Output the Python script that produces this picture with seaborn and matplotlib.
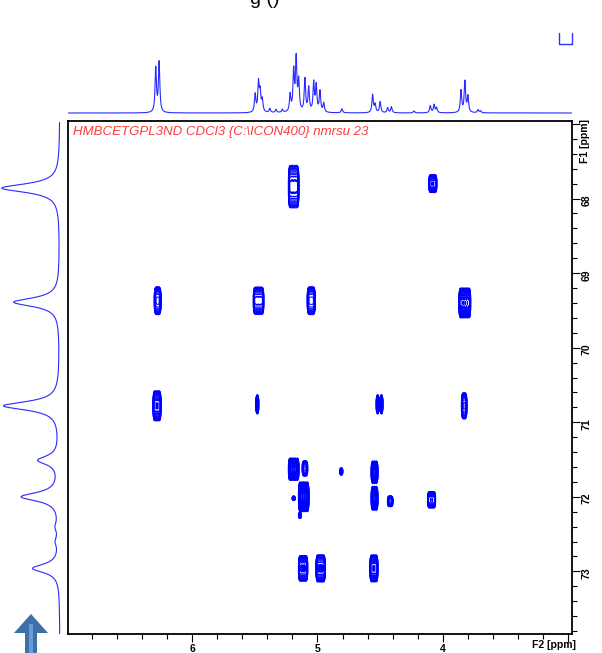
import numpy as np
import pandas as pd
import matplotlib
matplotlib.use("Agg")
import matplotlib.pyplot as plt
from matplotlib.patches import Polygon, Rectangle
from matplotlib.lines import Line2D
import seaborn as sns

# ---------------- data ----------------
# F2 (1H) projection: peak position [ppm] and height [arbitrary]
top_ppm = [6.290, 6.263, 5.497, 5.470, 5.457, 5.440, 5.380, 5.330, 5.280,
           5.218, 5.190, 5.170, 5.150, 5.100, 5.070, 5.030, 5.010, 4.980, 4.950,
           4.805, 4.560, 4.540, 4.500, 4.440, 4.410, 4.230, 4.100, 4.070, 4.050,
           3.855, 3.824, 3.800, 3.720, 3.700]
top_height = [44, 50, 18, 29, 19, 12, 4, 3, 3,
              17, 40, 52, 30, 33, 24, 29, 26, 21, 9,
              4, 18, 8, 11, 5, 6, 2, 7, 8, 5,
              22, 31, 16, 3, 2]

# F1 (13C) projection: peak position [ppm] and depth [arbitrary]
left_ppm = [67.86, 69.39, 70.78, 71.51, 72.00, 72.40, 72.60, 72.96]
left_depth = [58, 46, 56, 21, 38, 3, 3, 27]

# HMBC cross peaks: F2 range, F1 centre, F1 half extent, number of multiplet lines
cp_f2_a = [5.23, 4.11, 6.30, 5.51, 5.08, 3.87, 6.31, 5.485, 4.53, 3.85, 5.23, 5.12,
           5.15, 4.815, 4.57, 4.57, 4.44, 4.12, 5.15, 5.01, 4.58, 5.195, 5.145]
cp_f2_b = [5.15, 4.05, 6.25, 5.43, 5.02, 3.78, 6.25, 5.475, 4.48, 3.81, 5.15, 5.08,
           5.07, 4.805, 4.52, 4.52, 4.40, 4.06, 5.08, 4.94, 4.52, 5.185, 5.135]
cp_f1 = [67.84, 67.80, 69.37, 69.37, 69.37, 69.40, 70.78, 70.76, 70.76, 70.78, 71.63,
         71.62, 72.00, 71.66, 71.67, 72.02, 72.06, 72.04, 72.96, 72.96, 72.96, 72.02, 72.25]
cp_f1_half = [0.28, 0.12, 0.18, 0.18, 0.18, 0.20, 0.20, 0.13, 0.13, 0.17, 0.15, 0.10,
              0.20, 0.05, 0.15, 0.16, 0.07, 0.11, 0.17, 0.18, 0.18, 0.03, 0.04]
cp_lines = [6, 4, 4, 6, 5, 6, 4, 1, 2, 3, 5, 3, 5, 1, 3, 3, 3, 4, 5, 5, 4, 1, 1]

x_major = [6, 5, 4, 3]
x_major_labels = ["6", "5", "4", ""]
y_major = [67, 68, 69, 70, 71, 72, 73]
y_major_labels = ["", "68", "69", "70", "71", "72", "73"]
title_text = "HMBCETGPL3ND CDCl3 {C:\\ICON400} nmrsu 23"

# ---------------- layout helpers ----------------
W, H = 602, 653
XLIM = (6.99, 2.97)
YLIM = (73.84, 66.96)


def rect(x0, y0, x1, y1):
    return [x0 / W, 1 - y1 / H, (x1 - x0) / W, (y1 - y0) / H]


sns.set_theme(style="white")
plt.rcParams["font.family"] = ["Liberation Sans", "DejaVu Sans"]

fig = plt.figure(figsize=(W / 100, H / 100), dpi=100)

# ---------------- 2D contour ----------------
ax = fig.add_axes(rect(68, 121, 572, 634))
f2 = np.arange(2.95, 7.01, 0.0015)
f1 = np.arange(66.9, 73.9, 0.006)
Z = np.zeros((f1.size, f2.size))
sx = 0.0055
lowest = 0.08
for a, b, yc, hy, n in zip(cp_f2_a, cp_f2_b, cp_f1, cp_f1_half, cp_lines):
    lo, hi = min(a, b), max(a, b)
    if n > 1:
        m = 0.01
        centres = np.linspace(lo + m, hi - m, n)
    else:
        centres = [(lo + hi) / 2]
    # flat-topped profile along F1 reaching the lowest level at +/- hy
    sy = hy / (2 * np.log(1 / lowest)) ** (1 / 3)
    gy = np.exp(-0.5 * np.abs((f1 - yc) / sy) ** 3)
    for xc in centres:
        gx = np.exp(-0.5 * ((f2 - xc) / sx) ** 2)
        Z += np.outer(gy, gx)

levels = np.geomspace(lowest, 1.6, 16)
ax.contour(f2, f1, Z, levels=levels, colors="#0000ff", linewidths=0.7)
ax.set_xlim(XLIM)
ax.set_ylim(YLIM)
ax.grid(False)
for s in ax.spines.values():
    s.set_color("black")
    s.set_linewidth(1.3)

ax.set_xticks(x_major)
ax.set_xticklabels(x_major_labels)
ax.set_xticks(np.round(np.arange(3.2, 6.99, 0.2), 2), minor=True)
ax.yaxis.tick_right()
ax.set_yticks(y_major)
ax.set_yticklabels(y_major_labels)
ax.set_yticks(np.round(np.arange(67.2, 73.81, 0.2), 2), minor=True)
ax.tick_params(axis="both", which="both", direction="out", colors="black",
               bottom=True, top=False, left=False, right=True,
               labelbottom=True, labelright=True, labelleft=False)
ax.tick_params(axis="both", which="major", length=6, width=0.8, labelsize=7.5, pad=1)
ax.tick_params(axis="both", which="minor", length=3.5, width=0.8)
ax.tick_params(axis="y", labelrotation=90)
for lab in ax.get_xticklabels() + ax.get_yticklabels():
    lab.set_fontweight("bold")
ax.set_xlabel("")
ax.set_ylabel("")

# ---------------- top projection ----------------
ax_top = fig.add_axes(rect(68, 40, 572, 118))
gx_top = np.arange(2.97, 6.99, 0.0008)
gamma = 0.0065
spec_top = np.zeros_like(gx_top)
for p, h in zip(top_ppm, top_height):
    spec_top += h * gamma ** 2 / ((gx_top - p) ** 2 + gamma ** 2)
df_top = pd.DataFrame({"ppm": gx_top, "I": spec_top})
sns.lineplot(data=df_top, x="ppm", y="I", ax=ax_top, color="#2a2aff",
             linewidth=0.8, sort=False, estimator=None)
ax_top.set_xlim(XLIM)
ax_top.set_ylim(-5, 73)
ax_top.axis("off")

# ---------------- left projection ----------------
ax_left = fig.add_axes(rect(0, 121, 64, 634))
gy_left = np.arange(66.98, 73.84, 0.004)
g2 = 0.07
spec_left = np.zeros_like(gy_left)
for p, d in zip(left_ppm, left_depth):
    spec_left += d * g2 ** 2 / ((gy_left - p) ** 2 + g2 ** 2)
df_left = pd.DataFrame({"ppm": gy_left, "I": spec_left})
sns.lineplot(data=df_left, x="I", y="ppm", ax=ax_left, color="#2a2aff",
             linewidth=0.8, sort=False, estimator=None, orient="y")
ax_left.set_xlim(60, -4)
ax_left.set_ylim(YLIM)
ax_left.axis("off")

# ---------------- texts ----------------
fig.text(73 / W, 1 - 132 / H, title_text, color="#ff3b3b", style="italic",
         fontsize=9.5, ha="left", va="center")
fig.text(576 / W, 1 - 645 / H, "F2 [ppm]", ha="right", va="center",
         fontsize=7.5, fontweight="bold", color="black")
fig.text(585 / W, 1 - 141 / H, "F1 [ppm]", ha="center", va="center",
         rotation=90, fontsize=7.5, fontweight="bold", color="black")
fig.text(265 / W, 1 - 4 / H, "g ()", ha="center", va="baseline",
         fontsize=14, color="black")

# ---------------- decorations ----------------
fig.lines.append(Line2D([559 / W, 559 / W, 572 / W, 572 / W],
                        [1 - 33 / H, 1 - 44 / H, 1 - 44 / H, 1 - 33 / H],
                        transform=fig.transFigure, color="#3030ff", linewidth=1.0))
arrow_px = [(25, 653), (25, 633), (14, 633), (31, 614), (48, 633), (37, 633), (37, 653)]
fig.patches.append(Polygon([(x / W, 1 - y / H) for x, y in arrow_px], closed=True,
                           transform=fig.transFigure, facecolor="#3d6fa8",
                           edgecolor="none"))
fig.patches.append(Rectangle((29 / W, 0), 4 / W, (653 - 624) / H,
                             transform=fig.transFigure, facecolor="#6a9ad6",
                             edgecolor="none"))

fig.savefig("out.png", dpi=100)
